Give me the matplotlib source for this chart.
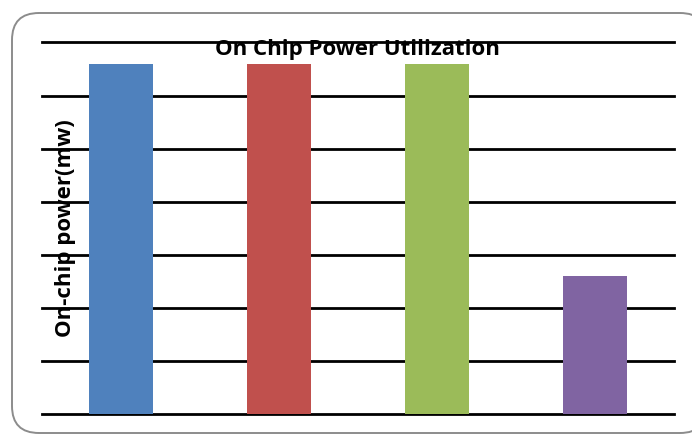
import matplotlib.pyplot as plt
from matplotlib.patches import FancyBboxPatch

# on-chip power per design (mw)
designs = ['A', 'B', 'C', 'D']
power = [66, 66, 66, 26]
colors = ['#4F81BD', '#C0504D', '#9BBB59', '#8064A2']
grid_ticks = [0, 10, 20, 30, 40, 50, 60, 70]

plt.rcParams['font.family'] = ['Open Sans', 'DejaVu Sans']

fig = plt.figure(figsize=(6.92, 4.36), dpi=100)

# rounded chart frame, in inches
frame = FancyBboxPatch((0.12, 0.03), 6.95, 4.20,
                       boxstyle='round,pad=0,rounding_size=0.27',
                       transform=fig.dpi_scale_trans, facecolor='white',
                       edgecolor='#8c8c8c', linewidth=1.4, zorder=-1)
fig.patches.append(frame)

ax = fig.add_axes([42 / 692, 22 / 436, 632 / 692, 371.5 / 436])
ax.set_zorder(1)
ax.set_facecolor('none')
x = range(len(designs))
ax.bar(x, power, width=0.405, color=colors, zorder=3)

ax.set_xlim(-0.5, 3.5)
ax.set_ylim(0, 70)
ax.set_yticks(grid_ticks)
ax.yaxis.grid(True, color='black', linewidth=2, zorder=1)
ax.set_axisbelow(True)
for gl in ax.get_ygridlines():
    gl.set_clip_on(False)
ax.tick_params(left=False, bottom=False, labelleft=False, labelbottom=False)
for s in ax.spines.values():
    s.set_visible(False)

fig.text(357 / 692, 1 - 50 / 436, 'On Chip Power Utilization',
         fontsize=16, fontweight='bold', ha='center', va='center', zorder=5)
fig.text(65 / 692, 1 - 228 / 436, 'On-chip power(mw)', rotation=90,
         fontsize=16, fontweight='bold', ha='center', va='center', zorder=5)

fig.savefig('out.png', dpi=100)
